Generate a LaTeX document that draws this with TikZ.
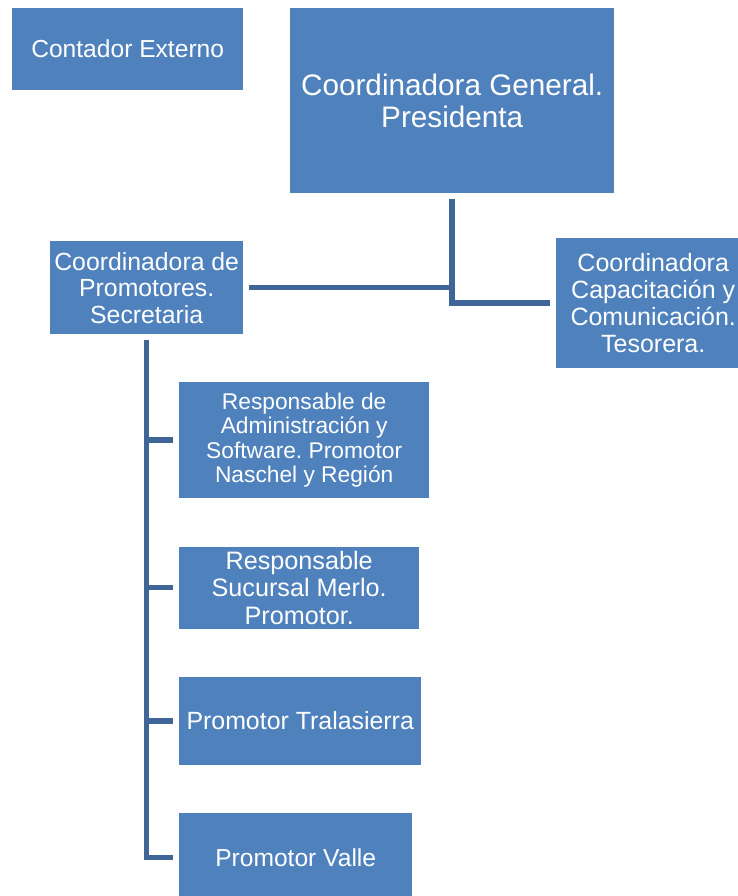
\documentclass[tikz,border=0pt]{standalone}
\usepackage{fontspec}
\setmainfont{Liberation Sans}
\usepackage{xcolor}
\usepackage{tikz}
\usetikzlibrary{positioning}
\definecolor{boxblue}{RGB}{79,129,189}
\definecolor{lineblue}{RGB}{64,102,152}
\frenchspacing

\begin{document}
\begin{tikzpicture}[x=1pt,y=-1pt,
  box/.style 2 args={fill=boxblue,text=white,align=center,inner sep=0pt,anchor=north west,font=\fontsize{#1}{#2}\selectfont},
  ln/.style={draw=lineblue,line width=5.5pt,shorten <=6pt,shorten >=6pt}]
  \useasboundingbox (0,0) rectangle (737,896);
  \node[box={24.6}{26},minimum width=231pt,minimum height=82pt] (cont) at (12,8) {Contador Externo};
  \node[box={29.7}{32},minimum width=324pt,minimum height=185pt] (gen) at (290,8) {Coordinadora General.\\Presidenta};
  \node[box={24.8}{26.5},minimum width=193pt,minimum height=93pt] (prom) at (50,241) {Coordinadora de\\Promotores.\\Secretaria};
  \node[box={25}{27},minimum width=194pt,minimum height=130pt] (tes) at (556,238) {Coordinadora\\Capacitación y\\Comunicación.\\Tesorera.};
  \node[box={22.75}{24.5},minimum width=250pt,minimum height=116pt] (adm) at (179,382) {Responsable de\\Administración y\\Software. Promotor\\Naschel y Región};
  \node[box={25.2}{27.5},minimum width=240pt,minimum height=82pt,below=48pt of adm.south west,anchor=north west] (suc) {Responsable\\Sucursal Merlo.\\Promotor.};
  \node[box={24.9}{27.5},minimum width=242pt,minimum height=88pt,below=48pt of suc.south west,anchor=north west] (tra) {Promotor Tralasierra};
  \node[box={24.6}{27.5},minimum width=233pt,minimum height=88pt,below=48pt of tra.south west,anchor=north west] (val) {Promotor Valle};
  % connectors
  \draw[ln] (gen.south) |- (tes.west);
  \draw[ln,shorten >=0pt] (prom.east) -- (prom.east -| gen.south);
  \draw[ln] (prom.south) |- (adm.west);
  \draw[ln] (prom.south) |- (suc.west);
  \draw[ln] (prom.south) |- (tra.west);
  \draw[ln] (prom.south) |- (val.west);
\end{tikzpicture}
\end{document}
